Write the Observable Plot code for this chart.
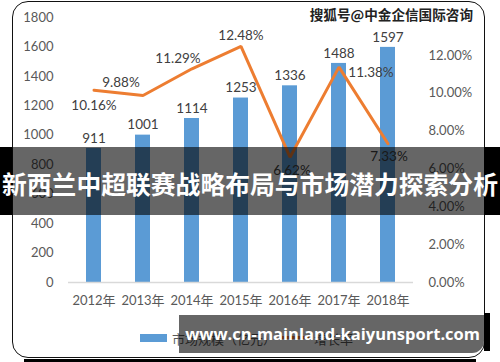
<!DOCTYPE html>
<html><head><meta charset="utf-8">
<script src="https://cdn.jsdelivr.net/npm/d3@7"></script>
<script src="https://cdn.jsdelivr.net/npm/@observablehq/plot@0.6"></script>
<style>
html,body{margin:0;padding:0;background:#fff;}
#wrap{position:relative;width:500px;height:362px;overflow:hidden;font-family:Lato,"Noto Sans CJK SC",sans-serif;}
#box{position:absolute;left:12px;top:1px;width:473px;height:357px;border:1.5px solid #111;border-radius:16px;box-sizing:border-box;}
#bottomline{position:absolute;left:24px;top:359px;width:452px;height:3px;background:#000;}
#chart{position:absolute;left:0;top:0;}
.leg{position:absolute;font-size:13px;color:#595959;white-space:nowrap;font-family:Lato,"Noto Sans CJK SC",sans-serif;}
#wm{position:absolute;right:27px;top:4px;font-size:13.6px;font-weight:bold;color:#222;font-family:"Noto Sans CJK SC",sans-serif;text-shadow:0 0 1px #fff,1px 1px 0 #fff;white-space:nowrap;}
.blk{position:absolute;background:#000;}
#band{position:absolute;left:12px;top:147px;width:472px;height:68px;background:rgba(0,0,0,0.6);}
#title{position:absolute;left:0;top:147px;width:500px;height:68px;line-height:72px;text-align:center;color:#fff;font-weight:bold;font-size:24.8px;font-family:"Noto Sans CJK SC",sans-serif;white-space:nowrap;}
#url{position:absolute;left:179px;top:315px;width:305px;height:38px;background:rgba(0,0,0,0.6);border-bottom-right-radius:12px;}
#urltext{position:absolute;left:179px;top:315px;width:301px;height:38px;line-height:38px;text-align:right;color:#fff;font-weight:bold;font-size:16.5px;font-family:"Open Sans",sans-serif;white-space:nowrap;}
</style>
</head><body>
<div id="wrap">
  <div id="box"></div>
  <div id="bottomline"></div>
  <div id="chart"></div>
  <div id="wm">搜狐号@中金企信国际咨询</div>
  <div class="blk" style="left:0;top:147px;width:12px;height:68px"></div>
  <div class="blk" style="left:484px;top:147px;width:16px;height:68px"></div>
  <div id="band"></div>
  <div id="title">新西兰中超联赛战略布局与市场潜力探索分析</div>
  <div class="blk" style="left:484px;top:313px;width:6px;height:38px"></div>
  <div id="url"></div>
  <div id="urltext">www.cn-mainland-kaiyunsport.com</div>
</div>
<script>
// ---- data ----
const years = ["2012年","2013年","2014年","2015年","2016年","2017年","2018年"];
const marketSize = [911, 1001, 1114, 1253, 1336, 1488, 1597];
const growthRate = [10.16, 9.88, 11.29, 12.48, 6.62, 11.38, 7.33];
const leftTicks = [0, 200, 400, 600, 800, 1000, 1200, 1400, 1600, 1800];
const rightTicks = [0, 2, 4, 6, 8, 10, 12];
const legendLabels = ["市场规模（亿元）", "增长率"];

// ---- build ----
const rows = years.map((year, i) => ({year, size: marketSize[i], rate: growthRate[i]}));
const k = 1800 / 14; // right axis 0–14% shares the left axis range
const font = "Lato, 'Noto Sans CJK SC', sans-serif";
// label placement for each growth-rate point [dx, dy]
const rateOffsets = [[0, 15], [-22, -13], [-14, -10], [0, -11], [2, 13], [32, 6], [1, 13]];

const marks = [
  Plot.axisY(leftTicks, {anchor: "left", tickSize: 0, tickPadding: 15, fill: "#595959", fontSize: 13,
    label: null, tickFormat: v => String(v)}),
  Plot.axisY(rightTicks.map(v => v * k), {anchor: "right", tickSize: 0, tickPadding: 15, fill: "#595959", fontSize: 13,
    label: null, tickFormat: v => (v / k).toFixed(2) + "%"}),
  Plot.axisX({tickSize: 0, tickPadding: 13, fill: "#595959", fontSize: 13, label: null}),
  Plot.barY(rows, {x: "year", y: "size", fill: "#5b9bd5"}),
  Plot.ruleY([0], {stroke: "#d9d9d9", strokeWidth: 1.5}),
  Plot.text(rows, {x: "year", y: "size", text: d => String(d.size), dy: -10, fill: "#404040", fontSize: 13.5}),
  Plot.line(rows, {x: "year", y: d => d.rate * k, stroke: "#ed7d31", strokeWidth: 3, strokeLinejoin: "miter"}),
  ...rows.map((r, i) => Plot.text([r], {x: "year", y: d => d.rate * k, text: d => d.rate.toFixed(2) + "%",
    dx: rateOffsets[i][0], dy: rateOffsets[i][1], fill: "#404040", fontSize: 13.5}))
];

const chart = Plot.plot({
  width: 500, height: 362,
  marginLeft: 68, marginRight: 87, marginTop: 17, marginBottom: 80,
  style: {fontFamily: font, fontSize: "13px", color: "#595959", background: "transparent", overflow: "visible"},
  x: {domain: years, paddingInner: 0.69, paddingOuter: 0.345, label: null},
  y: {domain: [0, 1800], label: null},
  marks
});
document.getElementById("chart").appendChild(chart);

// legend (HTML, below the plot area)
const wrap = document.getElementById("wrap");
const sw1 = document.createElement("div");
sw1.style.cssText = "position:absolute;left:140px;top:334px;width:27px;height:8px;background:#5b9bd5;";
wrap.insertBefore(sw1, document.getElementById("wm"));
const t1 = document.createElement("div");
t1.className = "leg"; t1.style.cssText = "left:172px;top:329px;"; t1.textContent = legendLabels[0];
wrap.insertBefore(t1, document.getElementById("wm"));
const sw2 = document.createElement("div");
sw2.style.cssText = "position:absolute;left:282px;top:336px;width:27px;height:3px;background:#ed7d31;";
wrap.insertBefore(sw2, document.getElementById("wm"));
const t2 = document.createElement("div");
t2.className = "leg"; t2.style.cssText = "left:314px;top:329px;"; t2.textContent = legendLabels[1];
wrap.insertBefore(t2, document.getElementById("wm"));
</script>
</body></html>
